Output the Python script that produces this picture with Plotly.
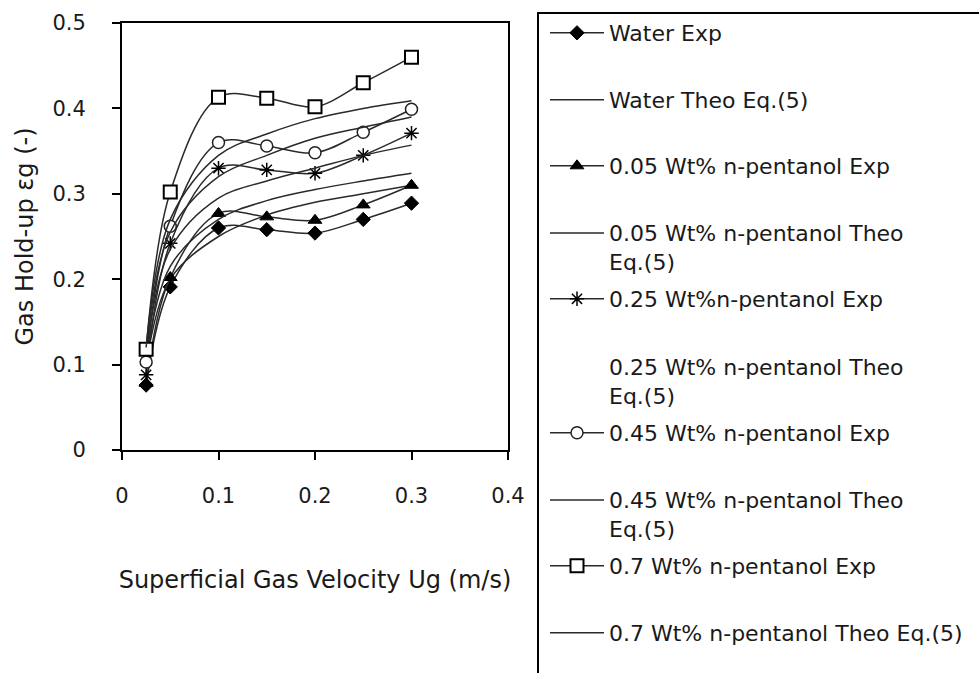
import plotly.graph_objects as go

ug = [0.025, 0.05, 0.1, 0.15, 0.2, 0.25, 0.3]

water_exp = [0.076, 0.191, 0.260, 0.258, 0.254, 0.270, 0.289]
water_theo = [0.100, 0.200, 0.250, 0.275, 0.290, 0.300, 0.310]
p005_exp = [0.078, 0.202, 0.277, 0.273, 0.269, 0.287, 0.310]
p005_theo = [0.105, 0.215, 0.270, 0.292, 0.305, 0.315, 0.324]
p025_exp = [0.088, 0.242, 0.330, 0.328, 0.324, 0.345, 0.371]
p025_theo = [0.110, 0.235, 0.295, 0.315, 0.330, 0.345, 0.357]
p045_exp = [0.103, 0.262, 0.360, 0.356, 0.348, 0.372, 0.399]
p045_theo = [0.115, 0.255, 0.320, 0.345, 0.365, 0.378, 0.390]
p07_exp = [0.118, 0.302, 0.413, 0.412, 0.402, 0.430, 0.460]
p07_theo = [0.120, 0.270, 0.345, 0.370, 0.388, 0.400, 0.409]

names = [
    "Water Exp",
    "Water Theo Eq.(5)",
    "0.05 Wt% n-pentanol Exp",
    "0.05 Wt% n-pentanol Theo<br>Eq.(5)",
    "0.25 Wt%n-pentanol Exp",
    "0.25 Wt% n-pentanol Theo<br>Eq.(5)",
    "0.45 Wt% n-pentanol Exp",
    "0.45 Wt% n-pentanol Theo<br>Eq.(5)",
    "0.7 Wt% n-pentanol Exp",
    "0.7 Wt% n-pentanol Theo Eq.(5)",
]

x_tick_vals = [0, 0.1, 0.2, 0.3, 0.4]
x_tick_text = ["0", "0.1", "0.2", "0.3", "0.4"]
y_tick_vals = [0, 0.1, 0.2, 0.3, 0.4, 0.5]
y_tick_text = ["0", "0.1", "0.2", "0.3", "0.4", "0.5"]

FONT = "DejaVu Sans"
TXT_C = "#1a1a1a"
LINE_C = "#2a2a2a"

fig = go.Figure()

exp_series = [
    (water_exp, "diamond", 11, "black", "black", 1),
    (p005_exp, "triangle-up", 12, "black", "black", 1),
    (p025_exp, "asterisk-open", 12, "black", "black", 1.5),
    (p045_exp, "circle", 12, "white", "#222", 1.5),
    (p07_exp, "square", 13, "white", "black", 2),
]
theo_series = [water_theo, p005_theo, p025_theo, p045_theo, p07_theo]

def label(txt):
    if "<br>" in txt:
        return "&nbsp;<br>" + txt
    return txt

for i in range(5):
    vals, sym, size, fillc, linec, lw = exp_series[i]
    li = 2 * i + 1
    fig.add_trace(go.Scatter(
        x=ug, y=vals, mode="lines+markers", name=label(names[2 * i]),
        line=dict(color=LINE_C, width=1.5, shape="spline", smoothing=1.0),
        marker=dict(symbol=sym, size=size, color=fillc,
                    line=dict(color=linec, width=lw)),
        legend="legend" if li == 1 else f"legend{li}",
    ))
    li2 = 2 * i + 2
    show_sym = (i != 2)
    fig.add_trace(go.Scatter(
        x=ug, y=theo_series[i], mode="lines", name=label(names[2 * i + 1]),
        line=dict(color=LINE_C, width=1.5, shape="spline", smoothing=1.0),
        legend=f"legend{li2}", showlegend=show_sym,
    ))
    if not show_sym:
        fig.add_trace(go.Scatter(
            x=[None], y=[None], mode="lines", name=label(names[2 * i + 1]),
            line=dict(color="rgba(0,0,0,0)", width=0),
            legend=f"legend{li2}", hoverinfo="skip",
        ))

# plot-area geometry (px)
L, R, T, B = 122, 508, 23, 450
W, H = 979, 673

def px2paper_x(px):
    return (px - L) / (R - L)

def px2paper_y(py):
    return (B - py) / (B - T)

legend_centers = [33, 100, 166, 233, 299, 367, 433, 500, 566, 633]
for k, cy in enumerate(legend_centers):
    key = "legend" if k == 0 else f"legend{k + 1}"
    fig.layout[key] = dict(
        x=px2paper_x(545), xanchor="left",
        y=px2paper_y(cy), yanchor="middle",
        bgcolor="rgba(0,0,0,0)", borderwidth=0,
        font=dict(family=FONT, size=22, color=TXT_C),
        itemwidth=54, tracegroupgap=0, visible=True,
    )

fig.add_shape(type="rect", xref="paper", yref="paper",
              x0=px2paper_x(538), x1=px2paper_x(1000),
              y0=px2paper_y(700), y1=px2paper_y(13),
              line=dict(color="black", width=2), fillcolor="rgba(0,0,0,0)")

fig.update_layout(
    width=W, height=H, showlegend=True,
    margin=dict(l=L, r=W - R, t=T, b=H - B, autoexpand=False),
    paper_bgcolor="white", plot_bgcolor="white",
    font=dict(family=FONT, size=21, color=TXT_C),
    xaxis=dict(
        range=[0, 0.4], tickvals=x_tick_vals, ticktext=x_tick_text,
        showgrid=False, zeroline=False, showline=True, linecolor="black",
        linewidth=2, mirror=True, ticks="outside", ticklen=8, tickwidth=2,
        tickcolor="black", tickfont=dict(family=FONT, size=21, color=TXT_C),
        ticklabelstandoff=18,
        title=dict(text="Superficial Gas Velocity Ug (m/s)",
                   font=dict(family=FONT, size=24, color=TXT_C), standoff=64),
    ),
    yaxis=dict(
        range=[0, 0.5], tickvals=y_tick_vals, ticktext=y_tick_text,
        showgrid=False, zeroline=False, showline=True, linecolor="black",
        linewidth=2, mirror=True, ticks="outside", ticklen=8, tickwidth=2,
        tickcolor="black", tickfont=dict(family=FONT, size=21, color=TXT_C),
        ticklabelstandoff=22,
        title=dict(text="Gas Hold-up εg (-)",
                   font=dict(family=FONT, size=24, color=TXT_C), standoff=12),
    ),
)

fig.write_html("out.html")
